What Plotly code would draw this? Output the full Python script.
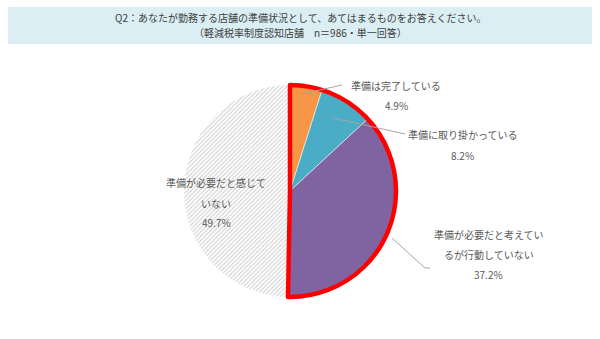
import plotly.graph_objects as go

# ---- data ----
categories = ["準備は完了している", "準備に取り掛かっている",
              "準備が必要だと考えているが行動していない", "準備が必要だと感じていない"]
values = [4.9, 8.2, 37.2, 49.7]
label_lines = [["準備は完了している"], ["準備に取り掛かっている"],
               ["準備が必要だと考えてい", "るが行動していない"],
               ["準備が必要だと感じて", "いない"]]
title_lines = ["Q2：あなたが勤務する店舗の準備状況として、あてはまるものをお答えください。",
               "（軽減税率制度認知店舗　n＝986・単一回答）"]

W, H = 600, 339
FONT = "Noto Sans CJK JP"
GREY = "#595959"

def px(x):
    return x / W

def py(y):
    return 1 - y / H

cx, cy, r = 290, 191, 106
domain = dict(x=[px(cx - r), px(cx + r)], y=[py(cy + r), py(cy - r)])

fig = go.Figure()
fig.add_trace(go.Pie(
    values=values, labels=categories, sort=False, direction="clockwise", rotation=0,
    domain=domain, textinfo="none", hoverinfo="label+percent", showlegend=False,
    marker=dict(
        colors=["#F79646", "#4BACC6", "#8064A2", "#FFFFFF"],
        line=dict(color=["#FFFFFF", "#FFFFFF", "#FFFFFF", "rgba(0,0,0,0)"], width=[0.5, 0.5, 0.5, 0]),
        pattern=dict(shape=["", "", "", "/"], fgcolor="#C8C8C8", bgcolor="#FFFFFF",
                     size=3, solidity=0.3),
    ),
))
# red outline around the "aware / ready" half
group = [sum(values[:3]), values[3]]
fig.add_trace(go.Pie(
    values=group, sort=False, direction="clockwise", rotation=0,
    domain=domain, textinfo="none", hoverinfo="skip", showlegend=False,
    marker=dict(colors=["rgba(0,0,0,0)", "rgba(0,0,0,0)"],
                line=dict(color=["#FF0000", "rgba(0,0,0,0)"], width=[4.5, 0])),
))

# title box
fig.add_shape(type="rect", xref="paper", yref="paper",
              x0=px(8), x1=px(592), y0=py(44), y1=py(7),
              fillcolor="#DAEEF3", line=dict(width=0), layer="below")
for i, t in enumerate(title_lines):
    fig.add_annotation(xref="paper", yref="paper", x=0.5, y=py(18 + 14 * i),
                       xanchor="center", yanchor="middle",
                       text=t, showarrow=False,
                       font=dict(family=FONT, size=10, color="#404040"))

# data labels: (center x, first line y) in pixels, 20px line spacing
label_pos = [(396, 85), (463, 135), (489, 234), (216, 183)]
for lines, v, (x, y) in zip(label_lines, values, label_pos):
    for j, t in enumerate(lines + [f"{v:.1f}%"]):
        fig.add_annotation(xref="paper", yref="paper", x=px(x), y=py(y + 20 * j), text=t,
                           xanchor="center", yanchor="middle",
                           showarrow=False, font=dict(family=FONT, size=10, color=GREY))

# leader lines
leaders = [[(302, 94), (342, 85)], [(333, 118), (405, 134)],
           [(392, 238), (425, 268), (430, 268)]]
for pts in leaders:
    path = "M " + " L ".join(f"{px(x)},{py(y)}" for x, y in pts)
    fig.add_shape(type="path", xref="paper", yref="paper", path=path,
                  line=dict(color="#A6A6A6", width=1))

fig.update_layout(width=W, height=H, margin=dict(l=0, r=0, t=0, b=0),
                  paper_bgcolor="white", plot_bgcolor="white",
                  font=dict(family=FONT))
fig.write_html("out.html")
